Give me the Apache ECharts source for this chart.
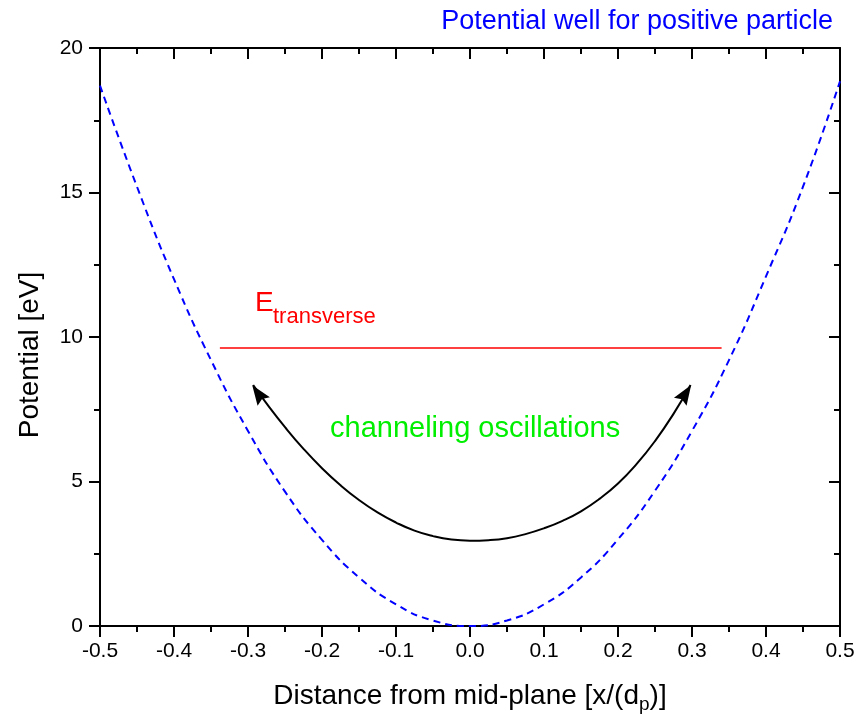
<!DOCTYPE html>
<html>
<head>
<meta charset="utf-8">
<script src="https://cdn.jsdelivr.net/npm/echarts@6/dist/echarts.min.js"></script>
<style>
html,body{margin:0;padding:0;background:#fff;}
#chart{width:868px;height:721px;}
</style>
</head>
<body>
<div id="chart"></div>
<script>
// ---- data ----
var potentialX = [-0.5, -0.45, -0.4, -0.35, -0.3, -0.25, -0.2, -0.15, -0.1, -0.05, 0, 0.05, 0.1, 0.15, 0.2, 0.25, 0.3, 0.35, 0.4, 0.45, 0.5];
var potentialY = [18.7, 15.2, 12.0, 9.2, 6.75, 4.65, 2.98, 1.68, 0.75, 0.19, 0, 0.19, 0.75, 1.68, 3.0, 4.68, 6.75, 9.2, 12.1, 15.2, 18.85];
var eTransX = [-0.338, 0.340];
var eTransY = [9.62, 9.62];
var arcX = [-0.293, -0.275, -0.25, -0.225, -0.2, -0.175, -0.15, -0.125, -0.1, -0.075, -0.05, -0.025, 0,
            0.025, 0.05, 0.075, 0.1, 0.125, 0.15, 0.175, 0.2, 0.225, 0.25, 0.275, 0.298];
var arcY = [8.34, 7.70, 6.88, 6.13, 5.46, 4.87, 4.36, 3.93, 3.58, 3.30, 3.11, 2.99, 2.95,
            2.97, 3.04, 3.18, 3.38, 3.64, 3.97, 4.40, 4.93, 5.60, 6.40, 7.34, 8.34];
var arrowX = [-0.2865, 0.2915];
var arrowY = [8.05, 8.05];
var arrowRot = [35, -33];
var xTicks = [-0.5, 0.5, 0.1];
var yTicks = [0, 20, 5];

var FONT = 'Liberation Sans, Arial, sans-serif';
function zip(a, b) { return a.map(function (v, i) { return [v, b[i]]; }); }

// text measuring helper (for placing the subscript pieces of the x-axis title)
var mctx = document.createElement('canvas').getContext('2d');
function textW(str, size) { mctx.font = size + 'px ' + FONT; return mctx.measureText(str).width; }

var chart = echarts.init(document.getElementById('chart'), null, {renderer: 'canvas'});

function xAx(pos) {
  var bottom = pos === 'bottom';
  return {
    type: 'value', position: pos, min: xTicks[0], max: xTicks[1], interval: xTicks[2],
    axisLine: {show: true, onZero: false, lineStyle: {color: '#000', width: 2}},
    axisTick: {show: true, inside: !bottom, length: 11, lineStyle: {color: '#000', width: 2}},
    minorTick: {show: true, splitNumber: 2, length: 6, lineStyle: {color: '#000', width: 2}},
    splitLine: {show: false},
    axisLabel: {show: bottom, fontSize: 21, fontFamily: FONT, color: '#000', margin: 15,
      formatter: function (v) { return v.toFixed(1); }}
  };
}
function yAx(pos) {
  var left = pos === 'left';
  return {
    type: 'value', position: pos, min: yTicks[0], max: yTicks[1], interval: yTicks[2],
    axisLine: {show: true, onZero: false, lineStyle: {color: '#000', width: 2}},
    axisTick: {show: true, inside: !left, length: 11, lineStyle: {color: '#000', width: 2}},
    minorTick: {show: true, splitNumber: 2, length: 6, lineStyle: {color: '#000', width: 2}},
    splitLine: {show: false},
    axisLabel: {show: left, fontSize: 21, fontFamily: FONT, color: '#000', margin: 17}
  };
}

// x-axis title pieces
var nameA = 'Distance from mid-plane [x/(d', nameB = 'p', nameC = ')]';
var nSize = 28, sSize = 19;
var wA = textW(nameA, nSize), wB = textW(nameB, sSize), wC = textW(nameC, nSize);
var nameLeft = 470 - (wA + wB + wC) / 2;
var nameBase = 706;

var arrowPath = 'path://M8,0 L16,20 L8,17 L0,20 Z';

var option = {
  backgroundColor: '#fff',
  animation: false,
  title: {
    text: 'Potential well for positive particle',
    right: 30, top: 3,
    textStyle: {color: '#0000ff', fontSize: 27, fontWeight: 'normal', fontFamily: FONT}
  },
  grid: {left: 100, right: 28, top: 48, bottom: 95, containLabel: false},
  xAxis: [xAx('bottom'), xAx('top')],
  yAxis: [yAx('left'), yAx('right')],
  series: [
    {
      name: 'potential', type: 'line', xAxisIndex: 0, yAxisIndex: 0,
      data: zip(potentialX, potentialY), smooth: true, symbol: 'none',
      lineStyle: {color: '#0000ff', width: 2, type: [7, 5]}, z: 3
    },
    {
      name: 'Etrans', type: 'line', xAxisIndex: 0, yAxisIndex: 0,
      data: zip(eTransX, eTransY), symbol: 'none',
      lineStyle: {color: '#ff0000', width: 1.5}, z: 2
    },
    {
      name: 'arc', type: 'line', xAxisIndex: 0, yAxisIndex: 0,
      data: zip(arcX, arcY), smooth: true, symbol: 'none',
      lineStyle: {color: '#000', width: 2}, z: 4
    },
    {
      name: 'arrows', type: 'scatter', xAxisIndex: 0, yAxisIndex: 0,
      data: arrowX.map(function (x, i) {
        return {value: [x, arrowY[i]], symbolRotate: arrowRot[i]};
      }),
      symbol: arrowPath, symbolSize: [15, 20], symbolKeepAspect: false,
      itemStyle: {color: '#000', opacity: 1}, z: 5
    }
  ],
  graphic: [
    {
      type: 'text', x: 30, y: 355, rotation: Math.PI / 2,
      style: {text: 'Potential [eV]', fontSize: 28, fontFamily: FONT, fill: '#000',
        align: 'center', verticalAlign: 'middle'}
    },
    {
      type: 'text', x: nameLeft, y: nameBase - 0.34 * nSize,
      style: {text: nameA, fontSize: nSize, fontFamily: FONT, fill: '#000',
        align: 'left', verticalAlign: 'middle'}
    },
    {
      type: 'text', x: nameLeft + wA, y: nameBase + 5 - 0.34 * sSize,
      style: {text: nameB, fontSize: sSize, fontFamily: FONT, fill: '#000',
        align: 'left', verticalAlign: 'middle'}
    },
    {
      type: 'text', x: nameLeft + wA + wB, y: nameBase - 0.34 * nSize,
      style: {text: nameC, fontSize: nSize, fontFamily: FONT, fill: '#000',
        align: 'left', verticalAlign: 'middle'}
    },
    {
      type: 'text', x: 255, y: 303,
      style: {text: 'E', fontSize: 28, fontFamily: FONT, fill: '#ff0000',
        align: 'left', verticalAlign: 'middle'}
    },
    {
      type: 'text', x: 273, y: 317,
      style: {text: 'transverse', fontSize: 22, fontFamily: FONT, fill: '#ff0000',
        align: 'left', verticalAlign: 'middle'}
    },
    {
      type: 'text', x: 330, y: 429,
      style: {text: 'channeling oscillations', fontSize: 29, fontFamily: FONT, fill: '#00ee00',
        align: 'left', verticalAlign: 'middle'}
    }
  ]
};
chart.setOption(option);
</script>
</body>
</html>
